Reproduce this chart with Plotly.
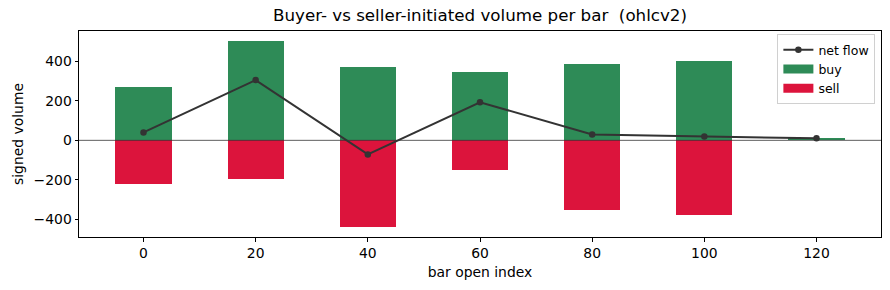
import plotly.graph_objects as go

bar_index = [0, 20, 40, 60, 80, 100, 120]
buy_volume = [270, 503, 371, 346, 386, 401, 12]
sell_volume = [-220, -196, -439, -149, -353, -378, 0]
net_flow = [40, 304, -71, 192, 30, 20, 10]

title_text = "Buyer- vs seller-initiated volume per bar  (ohlcv2)"
x_ticks = [0, 20, 40, 60, 80, 100, 120]
y_ticks = [-400, -200, 0, 200, 400]

FONT = "DejaVu Sans"
BUY_C = "#2E8B57"
SELL_C = "#DC143C"
LINE_C = "#333333"

fig = go.Figure()
fig.add_trace(go.Bar(x=bar_index, y=buy_volume, width=10, name="buy", showlegend=False,
                     marker=dict(color=BUY_C, line=dict(width=0))))
fig.add_trace(go.Bar(x=bar_index, y=sell_volume, width=10, name="sell", showlegend=False,
                     marker=dict(color=SELL_C, line=dict(width=0))))
fig.add_trace(go.Scatter(x=bar_index, y=net_flow, name="net flow", mode="lines+markers",
                         line=dict(color=LINE_C, width=2),
                         marker=dict(color=LINE_C, size=6.5), legendrank=1))
# legend-only entries with wide rectangular swatches
fig.add_trace(go.Scatter(x=[None], y=[None], name="buy", mode="lines",
                         line=dict(color=BUY_C, width=9), legendrank=2))
fig.add_trace(go.Scatter(x=[None], y=[None], name="sell", mode="lines",
                         line=dict(color=SELL_C, width=9), legendrank=3))

fig.add_shape(type="line", xref="paper", x0=0, x1=1, yref="y", y0=0, y1=0,
              line=dict(color="#333333", width=0.8), layer="above")

fig.update_layout(
    width=890, height=290,
    margin=dict(l=79, r=9, t=31, b=53),
    barmode="relative",
    bargap=0,
    plot_bgcolor="white", paper_bgcolor="white",
    font=dict(family=FONT, size=13.9, color="black"),
    title=dict(text=title_text, x=0.5, xref="paper", xanchor="center",
               y=1, yref="container", yanchor="top", pad=dict(t=9),
               font=dict(family=FONT, size=16.7, color="black")),
    showlegend=True,
    legend=dict(x=0.993, y=0.985, xanchor="right", yanchor="top",
                bgcolor="rgba(255,255,255,0.8)", bordercolor="#d0d0d0", borderwidth=1,
                font=dict(family=FONT, size=12.5), tracegroupgap=0, itemwidth=30),
    xaxis=dict(range=[-11.5, 131.5], tickvals=x_ticks, ticks="outside", ticklen=3.5,
               tickcolor="black", showline=True, linecolor="black", linewidth=1,
               mirror=True, showgrid=False, zeroline=False,
               tickfont=dict(size=13.9),
               title=dict(text="bar open index", font=dict(family=FONT, size=13.9), standoff=7)),
    yaxis=dict(range=[-488, 552], tickvals=y_ticks, ticks="outside", ticklen=3.5,
               tickcolor="black", showline=True, linecolor="black", linewidth=1,
               mirror=True, showgrid=False, zeroline=False,
               tickfont=dict(size=13.9),
               title=dict(text="signed volume", font=dict(family=FONT, size=13.9), standoff=6)),
)

fig.write_html("out.html")
